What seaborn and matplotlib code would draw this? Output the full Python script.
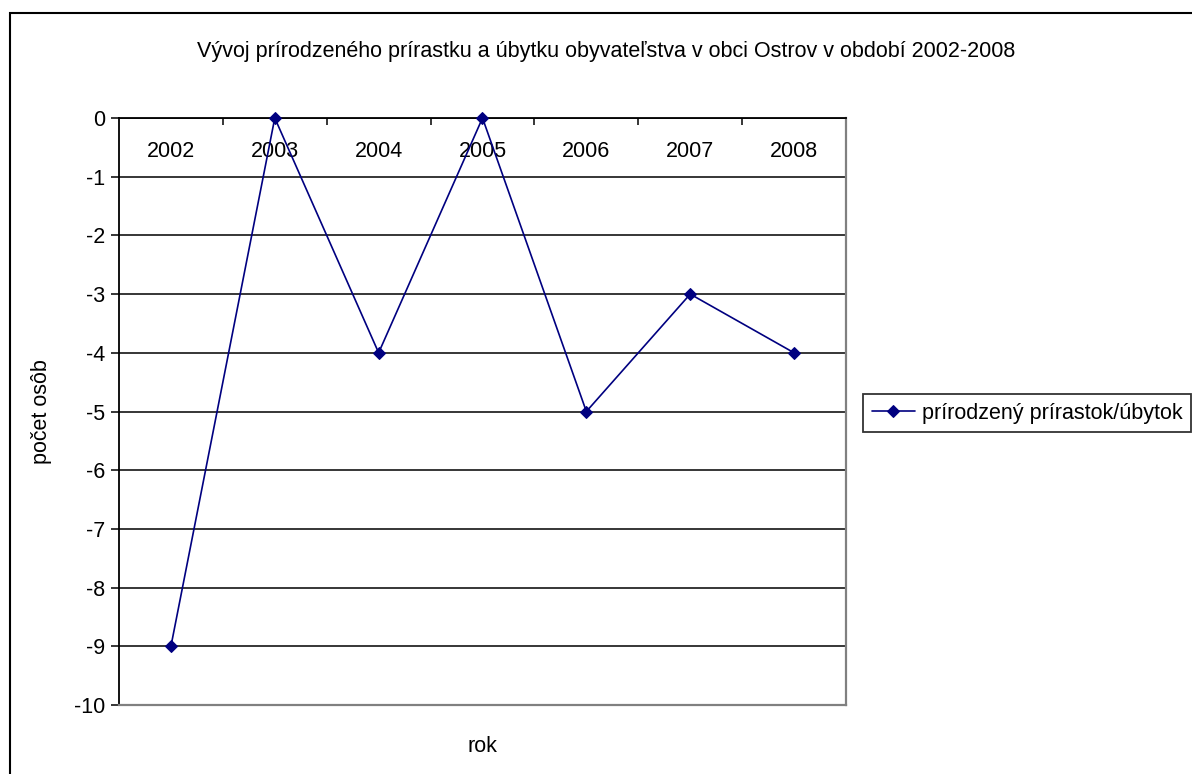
import matplotlib
matplotlib.use("Agg")
import matplotlib.pyplot as plt
import matplotlib.patches as mpatches
import seaborn as sns
import pandas as pd

years = ["2002", "2003", "2004", "2005", "2006", "2007", "2008"]
values = [-9, 0, -4, 0, -5, -3, -4]
y_ticks = [0, -1, -2, -3, -4, -5, -6, -7, -8, -9, -10]
title = "Vývoj prírodzeného prírastku a úbytku obyvateľstva v obci Ostrov v období 2002-2008"
series_name = "prírodzený prírastok/úbytok"

sns.set_style("white")
plt.rcParams["font.family"] = ["Liberation Sans", "DejaVu Sans"]
for k in ["text.color", "axes.labelcolor", "xtick.color", "ytick.color"]:
    plt.rcParams[k] = "black"

FS = 15.5
W, H = 1192, 774
fig = plt.figure(figsize=(W / 100, H / 100), dpi=100)
ax = fig.add_axes([119 / W, 1 - 705 / H, (846 - 119) / W, (705 - 118) / H])

df = pd.DataFrame({"pos": list(range(len(years))), "val": values, "s": series_name})
sns.lineplot(data=df, x="pos", y="val", ax=ax, color="#000080", marker="D",
             markersize=6.5, markeredgecolor="#000080", linewidth=1.2,
             label=series_name, legend=False, clip_on=False, zorder=5)

ax.set_xlim(-0.5, len(years) - 0.5)
ax.set_ylim(-10, 0)
ax.set_yticks(y_ticks)
ax.set_yticklabels([str(v) for v in y_ticks])
ax.yaxis.grid(True, color="black", linewidth=1.1)
ax.set_axisbelow(True)

# x axis at top (value 0): boundary ticks, labels centered within categories
ax.set_xticks([i + 0.5 for i in range(len(years) - 1)])
ax.set_xticklabels([])
ax.set_xticks(list(range(len(years))), labels=years, minor=True)
ax.tick_params(axis="x", which="major", top=True, bottom=False, direction="in",
               length=5, width=1.1, color="black", labeltop=False, labelbottom=False)
ax.tick_params(axis="x", which="minor", top=True, bottom=False, length=0,
               labeltop=True, labelbottom=False, pad=-32, labelsize=FS)
ax.tick_params(axis="y", left=True, direction="out", length=6, width=1.1,
               color="black", labelsize=FS, pad=4)

for s in ["left", "top"]:
    ax.spines[s].set_color("black")
    ax.spines[s].set_linewidth(1.3)
for s in ["right", "bottom"]:
    ax.spines[s].set_color("#808080")
    ax.spines[s].set_linewidth(1.6)

ax.xaxis.set_label_position("bottom")
ax.set_xlabel("rok", fontsize=FS, labelpad=22)
ax.set_ylabel("počet osôb", fontsize=FS)
ax.yaxis.set_label_coords(-0.092, 0.5)

fig.text(606 / W, 1 - 51 / H, title, ha="center", va="center", fontsize=FS)

handles, labels = ax.get_legend_handles_labels()
leg = fig.legend(handles, labels, loc="upper left",
                 bbox_to_anchor=(863 / W, 1 - 394 / H), bbox_transform=fig.transFigure,
                 borderaxespad=0, frameon=True, fancybox=False, fontsize=FS,
                 handlelength=2.0, handletextpad=0.35, borderpad=0.4)
leg.get_frame().set_edgecolor("black")
leg.get_frame().set_linewidth(1.3)

border = mpatches.Rectangle((10 / W, -0.05), 1.1, 1 - 13 / H + 0.05,
                            transform=fig.transFigure, fill=False,
                            edgecolor="black", linewidth=1.5, clip_on=False)
fig.patches.append(border)

fig.savefig("out.png", dpi=100)
